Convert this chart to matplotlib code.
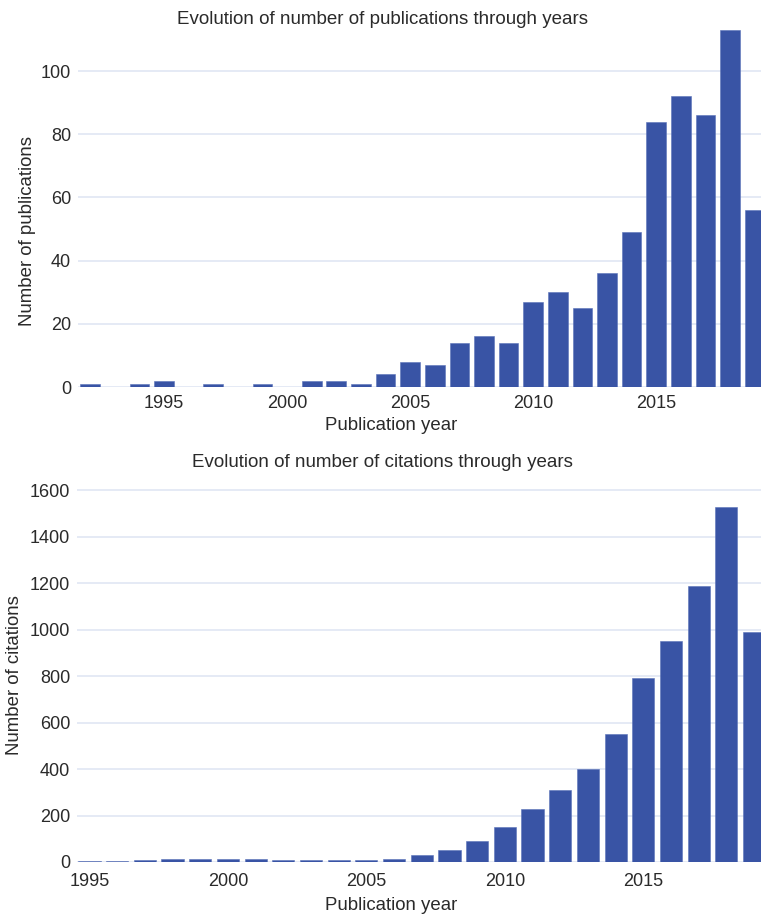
import matplotlib
matplotlib.use("Agg")
import matplotlib.pyplot as plt

plt.rcParams["font.family"] = ["Liberation Sans", "DejaVu Sans"]

# publications per year
pub_years = list(range(1992, 2020))
pub_counts = [1, 0, 1, 2, 0, 1, 0, 1, 0, 2, 2, 1, 4, 8, 7, 14, 16, 14,
              27, 30, 25, 36, 49, 84, 92, 86, 113, 56]

# citations per year
cit_years = list(range(1995, 2020))
cit_counts = [3, 5, 8, 15, 15, 12, 13, 10, 10, 10, 10, 15, 32, 50, 92,
              150, 230, 310, 400, 550, 790, 950, 1190, 1530, 990]

year_ticks = [1995, 2000, 2005, 2010, 2015]
pub_yticks = [0, 20, 40, 60, 80, 100]
cit_yticks = [0, 200, 400, 600, 800, 1000, 1200, 1400, 1600]

BAR = "#3954a5"
GRID = "#e3e8f4"
TXT = "#2a2a2a"
TICK_FS, TITLE_FS, LABEL_FS = 13, 13.5, 13.4

W, H = 761, 915
fig = plt.figure(figsize=(W / 100, H / 100), dpi=100)


def style(ax, yticks):
    for s in ax.spines.values():
        s.set_visible(False)
    ax.set_yticks(yticks)
    ax.yaxis.grid(True, color=GRID, lw=1.3)
    ax.set_axisbelow(True)
    ax.tick_params(length=0, labelsize=TICK_FS, colors=TXT)
    ax.tick_params(axis="y", pad=5)


# top: publications
ax1 = fig.add_axes([78 / W, 1 - 387 / H, (W - 78) / W, (387 - 30) / H])
ax1.bar(pub_years, pub_counts, width=0.8, color=BAR, edgecolor="#5a72b8", lw=0.4)
ax1.set_xlim(1991.5, 2019.26)
ax1.set_ylim(0, 113)
ax1.set_xticks(year_ticks)
style(ax1, pub_yticks)
ax1.tick_params(axis="x", pad=6)
fig.text(28 / W, 1 - 231 / H, "Number of publications", rotation=90,
         ha="center", va="center", fontsize=LABEL_FS, color=TXT)
fig.text(382 / W, 1 - 20 / H, "Evolution of number of publications through years",
         ha="center", va="center", fontsize=TITLE_FS, color=TXT)
fig.text(391 / W, 1 - 426 / H, "Publication year", ha="center", va="center",
         fontsize=LABEL_FS, color=TXT)

# bottom: citations
ax2 = fig.add_axes([77 / W, 1 - 862 / H, (W - 77) / W, (862 - 481) / H])
ax2.bar(cit_years, cit_counts, width=0.8, color=BAR, edgecolor="#5a72b8", lw=0.4)
ax2.set_xlim(1994.55, 2019.25)
ax2.set_ylim(0, 1640)
ax2.set_xticks(year_ticks)
style(ax2, cit_yticks)
ax2.tick_params(axis="x", pad=8)
fig.text(15 / W, 1 - 675 / H, "Number of citations", rotation=90,
         ha="center", va="center", fontsize=LABEL_FS, color=TXT)
fig.text(382 / W, 1 - 462 / H, "Evolution of number of citations through years",
         ha="center", va="center", fontsize=TITLE_FS, color=TXT)
fig.text(391 / W, 1 - 906 / H, "Publication year", ha="center", va="center",
         fontsize=LABEL_FS, color=TXT)

fig.savefig("out.png", dpi=100)
